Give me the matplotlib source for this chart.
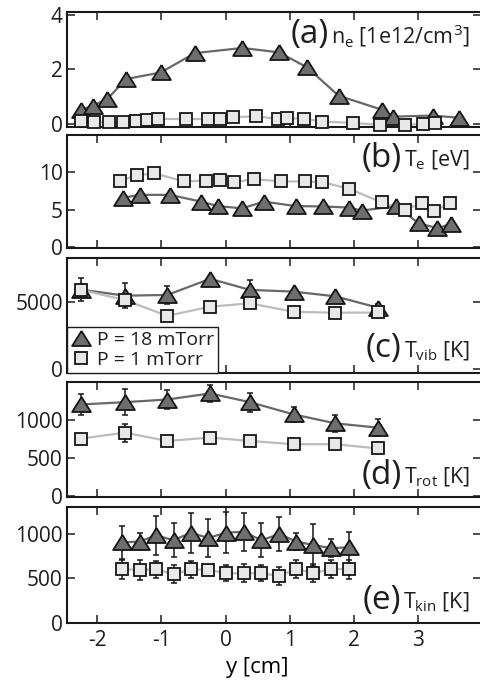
import matplotlib
matplotlib.use("Agg")
import matplotlib.pyplot as plt
from matplotlib.lines import Line2D

plt.rcParams['font.family'] = ['Open Sans', 'DejaVu Sans']
plt.rcParams['mathtext.fontset'] = 'custom'
plt.rcParams['mathtext.rm'] = 'Open Sans'
plt.rcParams['mathtext.it'] = 'Open Sans'
plt.rcParams['mathtext.bf'] = 'Open Sans:bold'
plt.rcParams['text.color'] = '#1e1e1e'
plt.rcParams['axes.unicode_minus'] = False

# (a) electron density [1e12/cm3]
x_a_18 = [-2.25, -2.07, -1.84, -1.55, -1.01, -0.48, 0.26, 0.83, 1.27, 1.76, 2.44, 2.61, 3.23, 3.63]
ne_18 = [0.51, 0.66, 0.91, 1.64, 1.88, 2.59, 2.78, 2.62, 2.07, 1.03, 0.51, 0.26, 0.30, 0.22]
x_a_1 = [-2.25, -2.05, -1.81, -1.60, -1.40, -1.23, -1.05, -0.61, -0.28, -0.09, 0.11,
         0.47, 0.81, 0.95, 1.23, 1.51, 1.98, 2.40, 2.79, 3.07, 3.26]
ne_1 = [0.09, 0.06, 0.05, 0.05, 0.09, 0.14, 0.18, 0.17, 0.18, 0.19, 0.24,
        0.27, 0.18, 0.20, 0.19, 0.08, 0.03, -0.04, -0.05, 0.0, 0.02]

# (b) electron temperature [eV]
x_b_18 = [-1.60, -1.34, -0.87, -0.38, -0.12, 0.26, 0.60, 1.09, 1.52, 1.93, 2.12, 2.66, 3.01, 3.30, 3.51]
te_18 = [6.6, 7.0, 7.0, 6.1, 5.5, 5.2, 6.1, 5.5, 5.45, 5.3, 4.9, 5.5, 3.2, 2.55, 3.1]
x_b_1 = [-1.64, -1.38, -1.12, -0.65, -0.30, -0.09, 0.13, 0.45, 0.86, 1.24, 1.51,
         1.93, 2.43, 2.79, 3.06, 3.24, 3.49]
te_1 = [8.9, 9.6, 9.9, 8.8, 8.9, 9.0, 8.7, 9.1, 8.8, 8.8, 8.7, 7.8, 6.0, 5.0, 5.9, 4.8, 5.9]

# (c) vibrational and (d) rotational temperature [K]
x_cd = [-2.25, -1.57, -0.91, -0.24, 0.38, 1.06, 1.71, 2.38]
tvib_18 = [5900, 5450, 5500, 6700, 5880, 5750, 5400, 4550]
tvib_18_err = [300, 950, 660, 150, 750, 150, 150, 250]
tvib_1 = [5880, 5130, 3950, 4630, 4880, 4250, 4180, 4200]
tvib_1_err = [850, 400, 150, 150, 150, 150, 150, 150]

trot_18 = [1205, 1235, 1270, 1350, 1235, 1075, 957, 900]
trot_18_err = [135, 170, 120, 115, 125, 100, 115, 110]
trot_1 = [757, 835, 726, 770, 726, 683, 683, 627]
trot_1_err = [45, 120, 30, 40, 40, 25, 25, 20]

# (e) kinetic temperature [K]
x_e = [-1.61, -1.34, -1.08, -0.81, -0.54, -0.27, 0.01, 0.28, 0.56, 0.84, 1.10, 1.37, 1.64, 1.92]
tkin_18 = [905, 915, 985, 930, 1015, 955, 1015, 1025, 930, 1000, 915, 875, 840, 850]
tkin_18_err = [190, 95, 220, 190, 225, 220, 235, 215, 195, 195, 100, 235, 100, 175]
tkin_1 = [600, 596, 600, 545, 600, 596, 556, 556, 556, 526, 608, 556, 608, 600]
tkin_1_err = [110, 110, 100, 100, 100, 30, 90, 100, 90, 100, 100, 100, 100, 110]

x_ticks = [-2, -1, 0, 1, 2, 3]
labels = ['(a)', '(b)', '(c)', '(d)', '(e)']
units = [r'$n_e$ [1e12/cm$^3$]', r'$T_e$ [eV]', r'$T_{vib}$ [K]', r'$T_{rot}$ [K]', r'$T_{kin}$ [K]']
legend_labels = ['P = 18 mTorr', 'P = 1 mTorr']

EDGE = '#161616'
TRI_FACE = '#6e6e6e'
TRI_LINE = '#686868'
SQ_FACE = '#e8e8e8'
SQ_LINE = '#bcbcbc'
# slightly flattened triangle, like the original markers
TRI = [(0, 0.8), (-1, -0.8), (1, -0.8), (0, 0.8)]
TRI_MS = 13.5
SQ_MS = 9


def series(ax, x, y, err, marker, face, line, ms):
    ax.plot(x, y, '-', color=line, lw=1.6, zorder=2)
    if err is not None:
        ax.errorbar(x, y, yerr=err, fmt='none', ecolor=EDGE, elinewidth=1.1,
                    capsize=2.5, capthick=1.1, zorder=3)
    ax.plot(x, y, ls='none', marker=marker, ms=ms, mfc=face, mec=EDGE, mew=1.3,
            zorder=4, clip_on=False)


W, H = 480, 688
fig = plt.figure(figsize=(W / 100, H / 100), dpi=100)
left = 67 / W
width = (481 - 67) / W
# top and bottom pixel rows of each panel
rows = [(12, 127), (135, 248), (258, 373), (382, 497), (507, 623)]
axes = []
for top, bot in rows:
    axes.append(fig.add_axes([left, 1 - bot / H, width, (bot - top) / H]))

ylims = [(-0.12, 4.1), (-0.1, 15.0), (-300, 8250), (-10, 1500), (-5, 1305)]
yticks = [[0, 2, 4], [0, 5, 10], [0, 5000], [0, 500, 1000], [0, 500, 1000]]

series(axes[0], x_a_18, ne_18, None, TRI, TRI_FACE, TRI_LINE, TRI_MS)
series(axes[0], x_a_1, ne_1, None, 's', SQ_FACE, SQ_LINE, SQ_MS)
series(axes[1], x_b_18, te_18, None, TRI, TRI_FACE, TRI_LINE, TRI_MS)
series(axes[1], x_b_1, te_1, None, 's', SQ_FACE, SQ_LINE, SQ_MS)
series(axes[2], x_cd, tvib_18, tvib_18_err, TRI, TRI_FACE, TRI_LINE, TRI_MS)
series(axes[2], x_cd, tvib_1, tvib_1_err, 's', SQ_FACE, SQ_LINE, SQ_MS)
series(axes[3], x_cd, trot_18, trot_18_err, TRI, TRI_FACE, TRI_LINE, TRI_MS)
series(axes[3], x_cd, trot_1, trot_1_err, 's', SQ_FACE, SQ_LINE, SQ_MS)
series(axes[4], x_e, tkin_18, tkin_18_err, TRI, TRI_FACE, TRI_LINE, TRI_MS)
series(axes[4], x_e, tkin_1, tkin_1_err, 's', SQ_FACE, SQ_LINE, SQ_MS)

for i, ax in enumerate(axes):
    ax.set_xlim(-2.47, 3.98)
    ax.set_ylim(*ylims[i])
    ax.set_xticks(x_ticks)
    ax.set_yticks(yticks[i])
    ax.tick_params(direction='in', top=True, right=True, length=6, width=1.1,
                   labelsize=15, colors='#1e1e1e', pad=3)
    ax.tick_params(axis='x', pad=5)
    for s in ax.spines.values():
        s.set_linewidth(1.5)
        s.set_color('#1a1a1a')
    if i < 4:
        ax.set_xticklabels([])

axes[4].set_xlabel('y [cm]', fontsize=16)
axes[4].xaxis.set_label_coords(0.46, -0.29)

handles = [
    Line2D([], [], ls='none', marker=TRI, ms=TRI_MS, mfc=TRI_FACE, mec=EDGE, mew=1.3),
    Line2D([], [], ls='none', marker='s', ms=SQ_MS, mfc=SQ_FACE, mec=EDGE, mew=1.3),
]
leg = axes[2].legend(handles, legend_labels, loc='lower left', bbox_to_anchor=(0, 0),
                     borderaxespad=0, fancybox=False, framealpha=1, edgecolor='#1a1a1a',
                     fontsize=14, handlelength=1.0, handletextpad=0.35,
                     borderpad=0.2, labelspacing=0.1)
leg.get_frame().set_linewidth(1.0)
leg.set_zorder(6)

# unit text, right aligned; panel letter placed just left of it
unit_y = [0.73, 0.72, 0.137, 0.117, 0.125]
unit_texts = []
for i, ax in enumerate(axes):
    t = ax.text(0.973, unit_y[i], units[i], transform=ax.transAxes, ha='right',
                va='baseline', fontsize=15.5)
    unit_texts.append(t)

fig.canvas.draw()
for i, ax in enumerate(axes):
    bb = unit_texts[i].get_window_extent()
    x0 = ax.transAxes.inverted().transform((bb.x0 - 2, bb.y0))[0]
    ax.text(x0, unit_y[i], labels[i], transform=ax.transAxes, ha='right',
            va='baseline', fontsize=24)

fig.savefig('out.png', dpi=100)
